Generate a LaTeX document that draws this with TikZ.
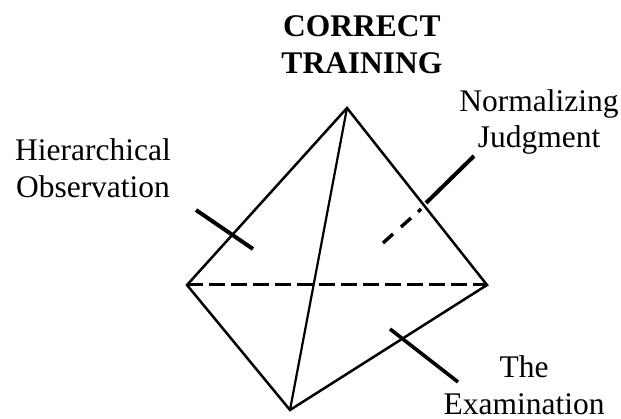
\documentclass[tikz,border=0pt]{standalone}
\usepackage{fontspec}
\setmainfont{Liberation Serif}
\tikzset{edge/.style={line width=2.5pt,line cap=round},tick/.style={line width=4pt},thintick/.style={line width=3.4pt},lab/.style={font=\fontsize{31.5}{36.5}\selectfont,align=center,inner sep=0pt,anchor=center}}
\begin{document}
\begin{tikzpicture}[x=1pt,y=-1pt]
\useasboundingbox (0,0) rectangle (621,419);
\coordinate (T) at (347,108);
\coordinate (L) at (187,285);
\coordinate (R) at (487,285);
\coordinate (B) at (290,410);
\draw[edge] (T)--(L)--(B)--(R)--cycle;
\draw[edge,line width=2.2pt] (T)--(B);
\draw[edge,line cap=butt,line width=3pt,dash pattern=on 15.5pt off 6.5pt] (L)--(R);
\coordinate (a1) at (196,210);\coordinate (a2) at (253,249);
\draw[tick] (a1)--(a2);
\coordinate (b1) at (474,156);\coordinate (b2) at (426,203);
\draw[tick] (b1)--(b2);
\coordinate (b3) at (421,209);\coordinate (b4) at (418,212);
\draw[thintick] (b3)--(b4);
\coordinate (b5) at (411,218);\coordinate (b6) at (401,227);
\draw[thintick] (b5)--(b6);
\coordinate (b7) at (393,234);\coordinate (b8) at (383,243);
\draw[thintick] (b7)--(b8);
\coordinate (c1) at (390,329);\coordinate (c2) at (458,382);
\draw[line width=3.6pt] (c1)--(c2);
\node[lab,font=\fontsize{31.5}{37}\selectfont\bfseries] (title) at (362,44.5) {CORRECT\\TRAINING};
\node[lab] (h) at (93,168) {Hierarchical\\Observation};
\node[lab] (n) at (539,122) {Normalizing\\Judgment};
\node[lab] (e) at (524,385) {The\\Examination};
\end{tikzpicture}
\end{document}
